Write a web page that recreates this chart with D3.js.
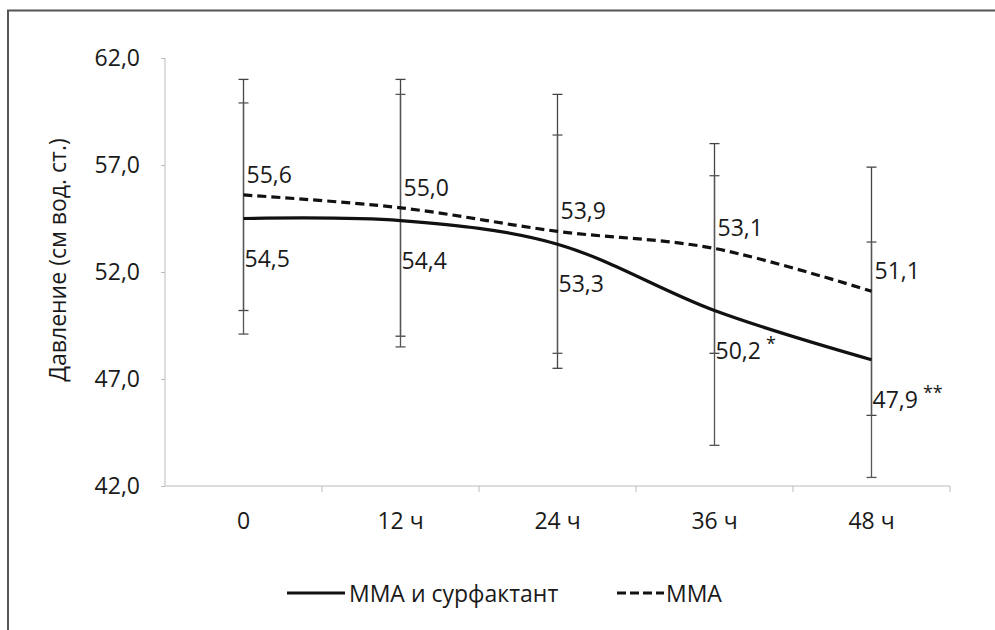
<!DOCTYPE html>
<html><head><meta charset="utf-8">
<script src="https://cdn.jsdelivr.net/npm/d3@7/dist/d3.min.js"></script>
<style>body{margin:0;background:#fff}svg{display:block}text{font-family:"Open Sans","Noto Sans",sans-serif;fill:#1a1a1a}</style>
</head><body>
<svg id="c" width="995" height="630"></svg>
<script>
const categories = ["0", "12 ч", "24 ч", "36 ч", "48 ч"];
const seriesNames = ["ММА и сурфактант", "ММА"];
const surfMean = [54.5, 54.4, 53.3, 50.2, 47.9];
const surfSD = [5.4, 5.9, 5.1, 6.3, 5.5];
const mmaMean = [55.6, 55.0, 53.9, 53.1, 51.1];
const mmaSD = [5.4, 6.0, 6.4, 4.9, 5.8];
const surfMarks = ["", "", "", "*", "**"];
const yTicks = [42, 47, 52, 57, 62];
const yTitle = "Давление (см вод. ст.)";

(function () {
const svg = d3.select("#c");
const FS = "23px";
const pL = 165, pR = 950, pT = 58, pB = 486;
const x = d3.scaleBand().domain(categories).range([pL, pR]);
const y = d3.scaleLinear().domain([42, 62]).range([pB, pT]);
const fmt = v => d3.format(".1f")(v).replace(".", ",");

// frame
svg.append("path").attr("d", "M8,630 V10.5 H995").attr("fill", "none").attr("stroke", "#555").attr("stroke-width", 2);

// y axis
const ya = svg.append("g").attr("transform", `translate(${pL},0)`)
  .call(d3.axisLeft(y).tickValues(yTicks).tickSize(4).tickPadding(21).tickFormat(fmt));
ya.select(".domain").attr("stroke", "#bbb").attr("d", `M0,${pT}V${pB}`);
ya.selectAll(".tick line").attr("stroke", "#bbb");
ya.selectAll(".tick text").style("font-size", FS).attr("fill", "#1a1a1a");

// x axis
const xa = svg.append("g").attr("transform", `translate(0,${pB})`)
  .call(d3.axisBottom(x).tickSize(0).tickPadding(27));
xa.select(".domain").attr("stroke", "#bbb").attr("d", `M${pL},0H${pR}`);
xa.selectAll(".tick text").style("font-size", FS).attr("fill", "#1a1a1a");
const bounds = categories.map(c => x(c)).slice(1).concat([pR]);
xa.selectAll(".bt").data(bounds).enter().append("line")
  .attr("x1", d => d).attr("x2", d => d).attr("y1", 0).attr("y2", 6).attr("stroke", "#bbb");

// y title
svg.append("text").attr("transform", "translate(57,260) rotate(-90)")
  .attr("text-anchor", "middle").attr("dominant-baseline", "central")
  .style("font-size", FS).text(yTitle);

const cx = c => x(c) + x.bandwidth() / 2;

// error bars
function errBars(mean, sd, color) {
  const g = svg.append("g");
  categories.forEach((c, i) => {
    const xc = cx(c), y1 = y(mean[i] + sd[i]), y2 = y(mean[i] - sd[i]);
    g.append("line").attr("x1", xc).attr("x2", xc).attr("y1", y1).attr("y2", y2).attr("stroke", color).attr("stroke-width", 1.3);
    [y1, y2].forEach(yy => g.append("line").attr("x1", xc - 5).attr("x2", xc + 5).attr("y1", yy).attr("y2", yy).attr("stroke", color).attr("stroke-width", 1.3));
  });
}
errBars(mmaMean, mmaSD, "#444");
errBars(surfMean, surfSD, "#555");

// lines
const line = d3.line().x((d, i) => cx(categories[i])).y(d => y(d)).curve(d3.curveCardinal.tension(0));
svg.append("path").datum(mmaMean).attr("d", line).attr("fill", "none").attr("stroke", "#111").attr("stroke-width", 3.2).attr("stroke-dasharray", "9,5");
svg.append("path").datum(surfMean).attr("d", line).attr("fill", "none").attr("stroke", "#111").attr("stroke-width", 3.2);

// labels
categories.forEach((c, i) => {
  svg.append("text").attr("x", cx(c) + 3).attr("y", y(mmaMean[i]) - 21)
    .attr("dominant-baseline", "central").style("font-size", FS).text(fmt(mmaMean[i]));
  const t = svg.append("text").attr("x", cx(c) + 1).attr("y", y(surfMean[i]) + 39)
    .attr("dominant-baseline", "central").style("font-size", FS);
  t.append("tspan").text(fmt(surfMean[i]));
  if (surfMarks[i]) t.append("tspan").attr("dx", 5).attr("dy", -7).style("font-size", "18px").text(surfMarks[i]);
});

// legend
const ly = 593;
svg.append("line").attr("x1", 287).attr("x2", 345).attr("y1", ly).attr("y2", ly).attr("stroke", "#111").attr("stroke-width", 3.2);
svg.append("text").attr("x", 349).attr("y", ly).attr("dominant-baseline", "central").style("font-size", FS).text(seriesNames[0]);
svg.append("line").attr("x1", 617).attr("x2", 664).attr("y1", ly).attr("y2", ly).attr("stroke", "#111").attr("stroke-width", 3.2).attr("stroke-dasharray", "9,4");
svg.append("text").attr("x", 666).attr("y", ly).attr("dominant-baseline", "central").style("font-size", FS).text(seriesNames[1]);
})();
</script>
</body></html>
